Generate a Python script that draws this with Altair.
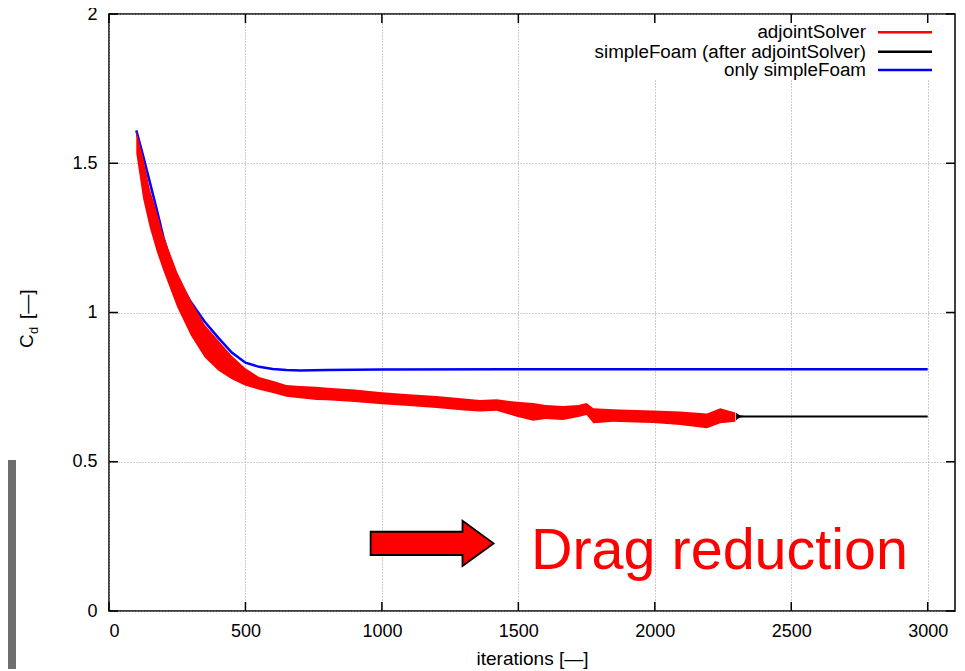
import altair as alt
import pandas as pd

# ---------------- data ----------------
blue_x = [100, 125, 150, 175, 200, 225, 250, 275, 300, 350, 400, 450, 500, 550,
          600, 650, 700, 800, 1000, 1500, 2000, 2500, 3000]
blue_y = [1.610, 1.525, 1.435, 1.345, 1.250, 1.172, 1.120, 1.075, 1.035, 0.970,
          0.916, 0.866, 0.832, 0.818, 0.811, 0.807, 0.806, 0.807, 0.809, 0.810,
          0.810, 0.810, 0.810]

red_x = [100, 125, 150, 175, 200, 250, 300, 350, 400, 450, 500, 550, 600, 650,
         700, 760, 800, 900, 1000, 1100, 1200, 1300, 1359, 1420, 1494, 1554,
         1600, 1664, 1720, 1750, 1775, 1848, 1900, 1995, 2093, 2191, 2240, 2295]
red_hi = [1.610, 1.520, 1.412, 1.337, 1.257, 1.135, 1.040, 0.960, 0.907, 0.855,
          0.813, 0.784, 0.771, 0.757, 0.754, 0.751, 0.748, 0.742, 0.733, 0.726,
          0.720, 0.712, 0.707, 0.709, 0.701, 0.697, 0.690, 0.687, 0.690, 0.697,
          0.679, 0.676, 0.674, 0.672, 0.668, 0.662, 0.679, 0.665]
red_lo = [1.533, 1.381, 1.282, 1.204, 1.138, 1.018, 0.923, 0.850, 0.806, 0.776,
          0.755, 0.741, 0.730, 0.718, 0.713, 0.707, 0.706, 0.700, 0.693, 0.687,
          0.680, 0.672, 0.668, 0.671, 0.651, 0.637, 0.643, 0.640, 0.650, 0.657,
          0.629, 0.634, 0.632, 0.630, 0.623, 0.612, 0.629, 0.634]

black_x = [2300, 3000]
black_y = [0.652, 0.652]
spike_x = [2298, 2305, 2315, 2330]
spike_hi = [0.664, 0.659, 0.655, 0.653]
spike_lo = [0.638, 0.645, 0.649, 0.651]

x_ticks = [0, 500, 1000, 1500, 2000, 2500, 3000]
y_ticks = [0, 0.5, 1, 1.5, 2]

legend_labels = ["adjointSolver", "simpleFoam (after adjointSolver)", "only simpleFoam"]
legend_colors = ["#ff0000", "#000000", "#0000ff"]

note_text = ["Drag reduction"]
note_x = [1546]
note_y = [0.1407]
arrow_x = [1184]
arrow_y = [0.2265]

# ---------------- layout ----------------
W, H = 846, 597
FONT = "Liberation Sans"
xs = alt.Scale(domain=[0, 3100], nice=False, zero=False)
ys = alt.Scale(domain=[0, 2], nice=False, zero=False)

blue_df = pd.DataFrame({"x": blue_x, "y": blue_y})
red_df = pd.DataFrame({"x": red_x, "y": red_hi, "lo": red_lo})
black_df = pd.DataFrame({"x": black_x, "y": black_y})
spike_df = pd.DataFrame({"x": spike_x, "y": spike_hi, "lo": spike_lo})
xt_df = pd.DataFrame({"x": x_ticks})
yt_df = pd.DataFrame({"y": y_ticks})
one = pd.DataFrame({"a": [0]})

x_axis = alt.Axis(values=x_ticks, format="d", grid=True, ticks=False, domain=False,
                  labelPadding=11, labelFontSize=18, labelFont=FONT, labelColor="black",
                  title="iterations [—]", titleFont=FONT, titleFontSize=19,
                  titleFontWeight="normal", titleColor="black", titlePadding=9,
                  gridDash=[1, 2], gridColor="#9a9a9a", gridWidth=1)
y_axis = alt.Axis(values=y_ticks, format="~g", grid=True, ticks=False, domain=False,
                  labelPadding=12, labelFontSize=18, labelFont=FONT, labelColor="black",
                  title=None, gridDash=[1, 2], gridColor="#9a9a9a", gridWidth=1)


def X(f="x"):
    return alt.X(f"{f}:Q", scale=xs, axis=x_axis)


def Y(f="y"):
    return alt.Y(f"{f}:Q", scale=ys, axis=y_axis)


blue = alt.Chart(blue_df).mark_line(color="#0000ff", strokeWidth=2.5).encode(x=X(), y=Y())
red = alt.Chart(red_df).mark_area(color="#ff0000", opacity=1).encode(x=X(), y=Y(), y2="lo:Q")
black = alt.Chart(black_df).mark_line(color="#000000", strokeWidth=2).encode(x=X(), y=Y())
spike = alt.Chart(spike_df).mark_area(color="#000000", opacity=1).encode(x=X(), y=Y(), y2="lo:Q")

# inward ticks (bottom, top, left, right)
tick_style = dict(color="black", strokeWidth=1.5)
t_bottom = alt.Chart(xt_df).mark_rule(**tick_style).encode(
    x=X(), y=alt.value(H), y2=alt.value(H - 9))
t_top = alt.Chart(xt_df).mark_rule(**tick_style).encode(
    x=X(), y=alt.value(0), y2=alt.value(9))
t_left = alt.Chart(yt_df).mark_rule(**tick_style).encode(
    y=Y(), x=alt.value(0), x2=alt.value(9))
t_right = alt.Chart(yt_df).mark_rule(**tick_style).encode(
    y=Y(), x=alt.value(W), x2=alt.value(W - 9))

# legend (opaque box, right-aligned labels, line samples)
legend_box = alt.Chart(one).mark_rect(color="white").encode(
    x=alt.value(476), x2=alt.value(832), y=alt.value(1), y2=alt.value(66))
legend_layers = [legend_box]
row_y = [18.3, 37.7, 56.0]
for lab, col, ry in zip(legend_labels, legend_colors, row_y):
    legend_layers.append(
        alt.Chart(one).mark_text(text=lab, font=FONT, fontSize=18.8, color="black",
                                 align="right", baseline="middle").encode(
            x=alt.value(757), y=alt.value(ry)))
    legend_layers.append(
        alt.Chart(one).mark_rule(color=col, strokeWidth=2.5).encode(
            x=alt.value(769), x2=alt.value(823), y=alt.value(ry)))

# y title: C_d [—]
yt_c = alt.Chart(one).mark_text(text="C", font=FONT, fontSize=19, angle=270,
                                align="left", baseline="alphabetic", color="black").encode(
    x=alt.value(-76), y=alt.value(334))
yt_d = alt.Chart(one).mark_text(text="d", font=FONT, fontSize=13, angle=270,
                                align="left", baseline="alphabetic", color="black").encode(
    x=alt.value(-71), y=alt.value(320))
yt_u = alt.Chart(one).mark_text(text="[—]", font=FONT, fontSize=19, angle=270,
                                align="left", baseline="alphabetic", color="black").encode(
    x=alt.value(-76), y=alt.value(305))

# annotation: arrow + text
arrow_path = ("M-1,-0.189 L0.494,-0.189 L0.494,-0.368 L1,0 L0.494,0.368 "
              "L0.494,0.189 L-1,0.189 Z")
arrow = alt.Chart(pd.DataFrame({"x": arrow_x, "y": arrow_y})).mark_point(
    shape=arrow_path, size=15129, filled=True, fill="#ff0000", stroke="black",
    strokeWidth=1.8, opacity=1).encode(x=X(), y=Y())
note = alt.Chart(pd.DataFrame({"x": note_x, "y": note_y, "t": note_text})).mark_text(
    font=FONT, fontSize=57.5, color="#ff0000", align="left", baseline="alphabetic").encode(
    x=X(), y=Y(), text="t:N")

# gray strip at the left edge of the picture
strip = alt.Chart(one).mark_rect(color="#6e6e6e").encode(
    x=alt.value(-101), x2=alt.value(-93), y=alt.value(446), y2=alt.value(680))

chart = alt.layer(
    blue, red, spike, black, *legend_layers, t_bottom, t_top, t_left, t_right,
    yt_c, yt_d, yt_u, arrow, note, strip
).properties(
    width=W, height=H,
    background="white",
    autosize=alt.AutoSizeParams(type="none"),
    padding={"left": 101, "top": 6, "right": 2, "bottom": 58},
).configure_view(
    stroke="black", strokeWidth=1.5
)

chart.save("out.html", embed_options={"renderer": "svg", "actions": False})
